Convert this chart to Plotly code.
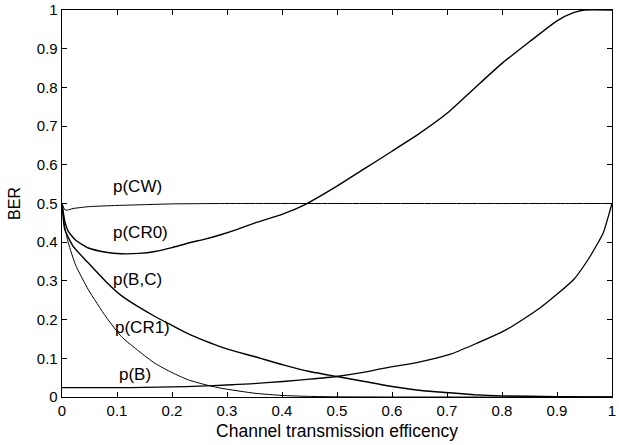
import plotly.graph_objects as go

# ---- data ----
cw_x = [0, 0.005, 0.01, 0.02, 0.05, 0.1, 0.15, 0.2, 0.3, 0.5, 0.7, 0.9, 1.0]
cw_y = [0.5, 0.484, 0.483, 0.487, 0.492, 0.495, 0.497, 0.499, 0.5, 0.5, 0.5, 0.5, 0.5]

cr0_x = [0, 0.005, 0.0115, 0.025, 0.048, 0.08, 0.108, 0.14, 0.169, 0.2, 0.23, 0.26,
         0.29, 0.32, 0.351, 0.4, 0.44, 0.5, 0.55, 0.6, 0.65, 0.7, 0.75, 0.8, 0.85,
         0.9, 0.93, 0.95, 1.0]
cr0_y = [0.5, 0.455, 0.428, 0.405, 0.385, 0.374, 0.370, 0.371, 0.376, 0.386, 0.398,
         0.408, 0.42, 0.434, 0.45, 0.472, 0.496, 0.545, 0.59, 0.635, 0.681, 0.733,
         0.798, 0.862, 0.918, 0.972, 0.993, 1.0, 1.0]

bc_x = [0, 0.005, 0.02, 0.048, 0.08, 0.108, 0.14, 0.169, 0.2, 0.23, 0.26, 0.29, 0.32,
        0.351, 0.402, 0.45, 0.5, 0.55, 0.6, 0.657, 0.705, 0.75, 0.8, 0.9, 1.0]
bc_y = [0.5, 0.433, 0.39, 0.346, 0.298, 0.262, 0.232, 0.208, 0.185, 0.163, 0.145,
        0.129, 0.116, 0.104, 0.083, 0.066, 0.053, 0.04, 0.027, 0.016, 0.011, 0.006,
        0.003, 0.001, 0.0]

cr1_x = [0, 0.005, 0.0115, 0.025, 0.048, 0.08, 0.108, 0.14, 0.169, 0.2, 0.23, 0.26,
         0.29, 0.351, 0.4, 0.45, 0.5, 0.6, 0.8, 1.0]
cr1_y = [0.5, 0.44, 0.398, 0.34, 0.277, 0.207, 0.156, 0.118, 0.087, 0.063, 0.044,
         0.032, 0.0225, 0.0096, 0.004, 0.0015, 0.0005, 0, 0, 0]

b_x = [0, 0.1, 0.15, 0.2, 0.25, 0.3, 0.342, 0.402, 0.45, 0.499, 0.55, 0.584, 0.645,
       0.705, 0.748, 0.808, 0.869, 0.93, 0.96, 0.984, 0.996, 1.0]
b_y = [0.024, 0.024, 0.025, 0.026, 0.028, 0.031, 0.034, 0.040, 0.046, 0.053, 0.064,
       0.074, 0.089, 0.11, 0.135, 0.174, 0.23, 0.303, 0.363, 0.424, 0.48, 0.5]

labels = ["p(CW)", "p(CR0)", "p(B,C)", "p(CR1)", "p(B)"]
label_x = [0.138, 0.142, 0.138, 0.146, 0.133]
label_y = [0.543, 0.425, 0.303, 0.179, 0.057]

tick_vals = [0, 0.1, 0.2, 0.3, 0.4, 0.5, 0.6, 0.7, 0.8, 0.9, 1]
tick_text = ["0", "0.1", "0.2", "0.3", "0.4", "0.5", "0.6", "0.7", "0.8", "0.9", "1"]

FONT = "Liberation Sans, Arial, Helvetica, sans-serif"

fig = go.Figure()
series = [
    (cw_x, cw_y, 1.0),
    (cr0_x, cr0_y, 1.4),
    (bc_x, bc_y, 1.4),
    (cr1_x, cr1_y, 1.0),
    (b_x, b_y, 1.3),
]
for xs, ys, w in series:
    fig.add_trace(go.Scatter(x=xs, y=ys, mode="lines",
                             line=dict(color="black", width=w, shape="spline", smoothing=0.5),
                             showlegend=False, hoverinfo="skip", cliponaxis=True))

for t, lx, ly in zip(labels, label_x, label_y):
    fig.add_annotation(x=lx, y=ly, text=t, showarrow=False,
                       font=dict(family=FONT, size=17, color="black"),
                       xanchor="center", yanchor="middle")

axis_common = dict(
    tickvals=tick_vals, ticktext=tick_text,
    ticks="inside", ticklen=5, tickwidth=1, tickcolor="black",
    showline=True, linecolor="black", linewidth=1.3, mirror="ticks",
    showgrid=False, zeroline=False, automargin=False,
    ticklabeloverflow="allow",
    tickfont=dict(family=FONT, size=15, color="black"),
)

fig.update_xaxes(range=[0, 1], title=dict(text="Channel transmission efficency",
                 font=dict(family=FONT, size=17.5, color="black"), standoff=6),
                 **axis_common)
fig.update_yaxes(range=[0, 1], title=dict(text="BER",
                 font=dict(family=FONT, size=16, color="black"), standoff=12),
                 **axis_common)

fig.update_layout(
    width=619, height=445,
    margin=dict(l=62, r=7, t=10, b=48, autoexpand=False),
    paper_bgcolor="white", plot_bgcolor="white",
    showlegend=False,
)

# remove the browser's default 8px body margin so the figure sits at the page origin
fig.write_html("out.html",
               config={"displayModeBar": False, "staticPlot": True},
               post_script="document.body.style.margin='0px';document.body.style.overflow='hidden';")
